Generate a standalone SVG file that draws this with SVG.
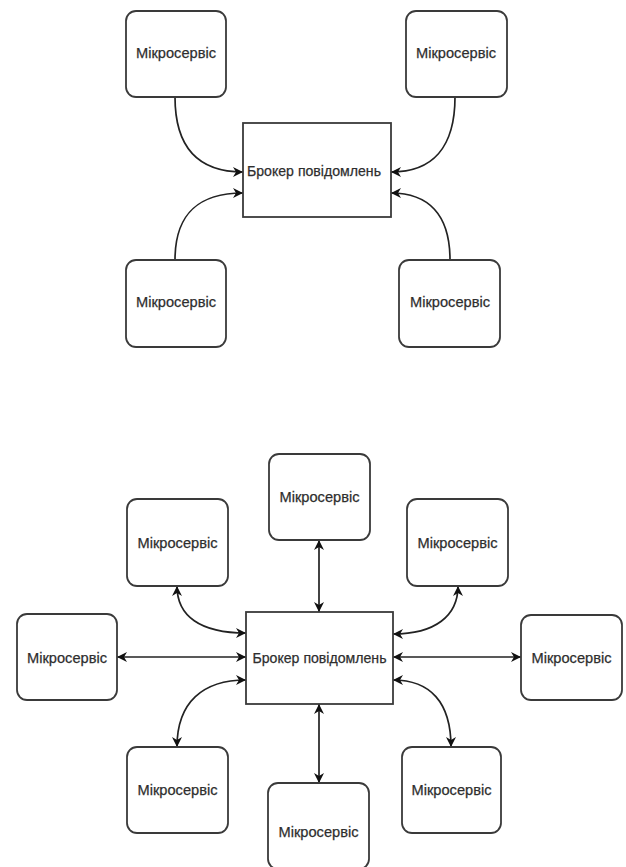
<svg xmlns="http://www.w3.org/2000/svg" width="626" height="867" viewBox="0 0 626 867">
  <style>
    .svc { fill: #ffffff; stroke: #3a3a3a; stroke-width: 1.8; }
    .broker { fill: #ffffff; stroke: #3a3a3a; stroke-width: 1.8; }
    .lbl { font-family: "Liberation Sans", Arial, sans-serif; font-size: 15px; fill: #2e2e2e; text-anchor: middle; stroke: #2e2e2e; stroke-width: 0.25; }
    .edge { fill: none; stroke: #222222; stroke-width: 1.7; }
    .one { marker-end: url(#arrow); }
    .two { marker-start: url(#arrow); marker-end: url(#arrow); }
  </style>
  <defs>
    <marker id="arrow" viewBox="0 0 10 10" refX="10" refY="5" markerWidth="11" markerHeight="10" markerUnits="userSpaceOnUse" orient="auto-start-reverse">
      <path d="M0,0 L10,5 L0,10 L3,5 Z" fill="#111111"/>
    </marker>
  </defs>
  <rect width="626" height="867" fill="#ffffff"/>

  <!-- Upper scheme: four services sending to the broker -->
  <g id="connectors-a">
    <path class="edge one" d="M175,97 C175,148 198,172 243,172"/>
    <path class="edge one" d="M175,260 C175,214 198,193 243,193"/>
    <path class="edge one" d="M455,97 C455,148 432,172 391,172"/>
    <path class="edge one" d="M450,260 C450,214 428,193 391,193"/>
  </g>
  <g id="a-broker">
    <rect class="broker" x="243" y="123" width="148" height="94"/>
    <text class="lbl" x="314" y="176" textLength="134" lengthAdjust="spacingAndGlyphs">Брокер повідомлень</text>
  </g>
  <g id="a-svc-tl">
    <rect class="svc" x="126" y="11" width="100" height="86" rx="10"/>
    <text class="lbl" x="176" y="58" textLength="80" lengthAdjust="spacingAndGlyphs">Мікросервіс</text>
  </g>
  <g id="a-svc-tr">
    <rect class="svc" x="406" y="11" width="101" height="86" rx="10"/>
    <text class="lbl" x="456" y="58" textLength="80" lengthAdjust="spacingAndGlyphs">Мікросервіс</text>
  </g>
  <g id="a-svc-bl">
    <rect class="svc" x="126" y="260" width="100" height="87" rx="10"/>
    <text class="lbl" x="176" y="307" textLength="80" lengthAdjust="spacingAndGlyphs">Мікросервіс</text>
  </g>
  <g id="a-svc-br">
    <rect class="svc" x="399" y="260" width="101" height="87" rx="10"/>
    <text class="lbl" x="450" y="307" textLength="80" lengthAdjust="spacingAndGlyphs">Мікросервіс</text>
  </g>

  <!-- Lower scheme: eight services exchanging with the broker both ways -->
  <g id="connectors-b">
    <path class="edge two" d="M319,540 L319,612"/>
    <path class="edge two" d="M319,704 L319,783"/>
    <path class="edge two" d="M117,657 L246,657"/>
    <path class="edge two" d="M393,657 L521,657"/>
    <path class="edge two" d="M177,586 C177,616 200,633 246,633"/>
    <path class="edge two" d="M458,586 C458,616 435,634 393,634"/>
    <path class="edge two" d="M246,680 C203,680 177,702 177,747"/>
    <path class="edge two" d="M393,680 C430,680 451,702 451,747"/>
  </g>
  <g id="b-broker">
    <rect class="broker" x="246" y="612" width="147" height="92"/>
    <text class="lbl" x="319.5" y="663" textLength="134" lengthAdjust="spacingAndGlyphs">Брокер повідомлень</text>
  </g>
  <g id="b-svc-top">
    <rect class="svc" x="269" y="454" width="101" height="86" rx="10"/>
    <text class="lbl" x="319.5" y="502" textLength="80" lengthAdjust="spacingAndGlyphs">Мікросервіс</text>
  </g>
  <g id="b-svc-tl">
    <rect class="svc" x="127" y="499" width="101" height="87" rx="10"/>
    <text class="lbl" x="177.5" y="548" textLength="80" lengthAdjust="spacingAndGlyphs">Мікросервіс</text>
  </g>
  <g id="b-svc-tr">
    <rect class="svc" x="407" y="499" width="101" height="87" rx="10"/>
    <text class="lbl" x="457.5" y="548" textLength="80" lengthAdjust="spacingAndGlyphs">Мікросервіс</text>
  </g>
  <g id="b-svc-left">
    <rect class="svc" x="17" y="614" width="100" height="86" rx="10"/>
    <text class="lbl" x="67" y="663" textLength="80" lengthAdjust="spacingAndGlyphs">Мікросервіс</text>
  </g>
  <g id="b-svc-right">
    <rect class="svc" x="521" y="615" width="101" height="85" rx="10"/>
    <text class="lbl" x="571.5" y="663" textLength="80" lengthAdjust="spacingAndGlyphs">Мікросервіс</text>
  </g>
  <g id="b-svc-bl">
    <rect class="svc" x="127" y="747" width="101" height="86" rx="10"/>
    <text class="lbl" x="177.5" y="795" textLength="80" lengthAdjust="spacingAndGlyphs">Мікросервіс</text>
  </g>
  <g id="b-svc-br">
    <rect class="svc" x="402" y="747" width="99" height="86" rx="10"/>
    <text class="lbl" x="451.5" y="795" textLength="80" lengthAdjust="spacingAndGlyphs">Мікросервіс</text>
  </g>
  <g id="b-svc-bottom">
    <rect class="svc" x="268" y="783" width="101" height="86" rx="10"/>
    <text class="lbl" x="318.5" y="837" textLength="80" lengthAdjust="spacingAndGlyphs">Мікросервіс</text>
  </g>
</svg>
